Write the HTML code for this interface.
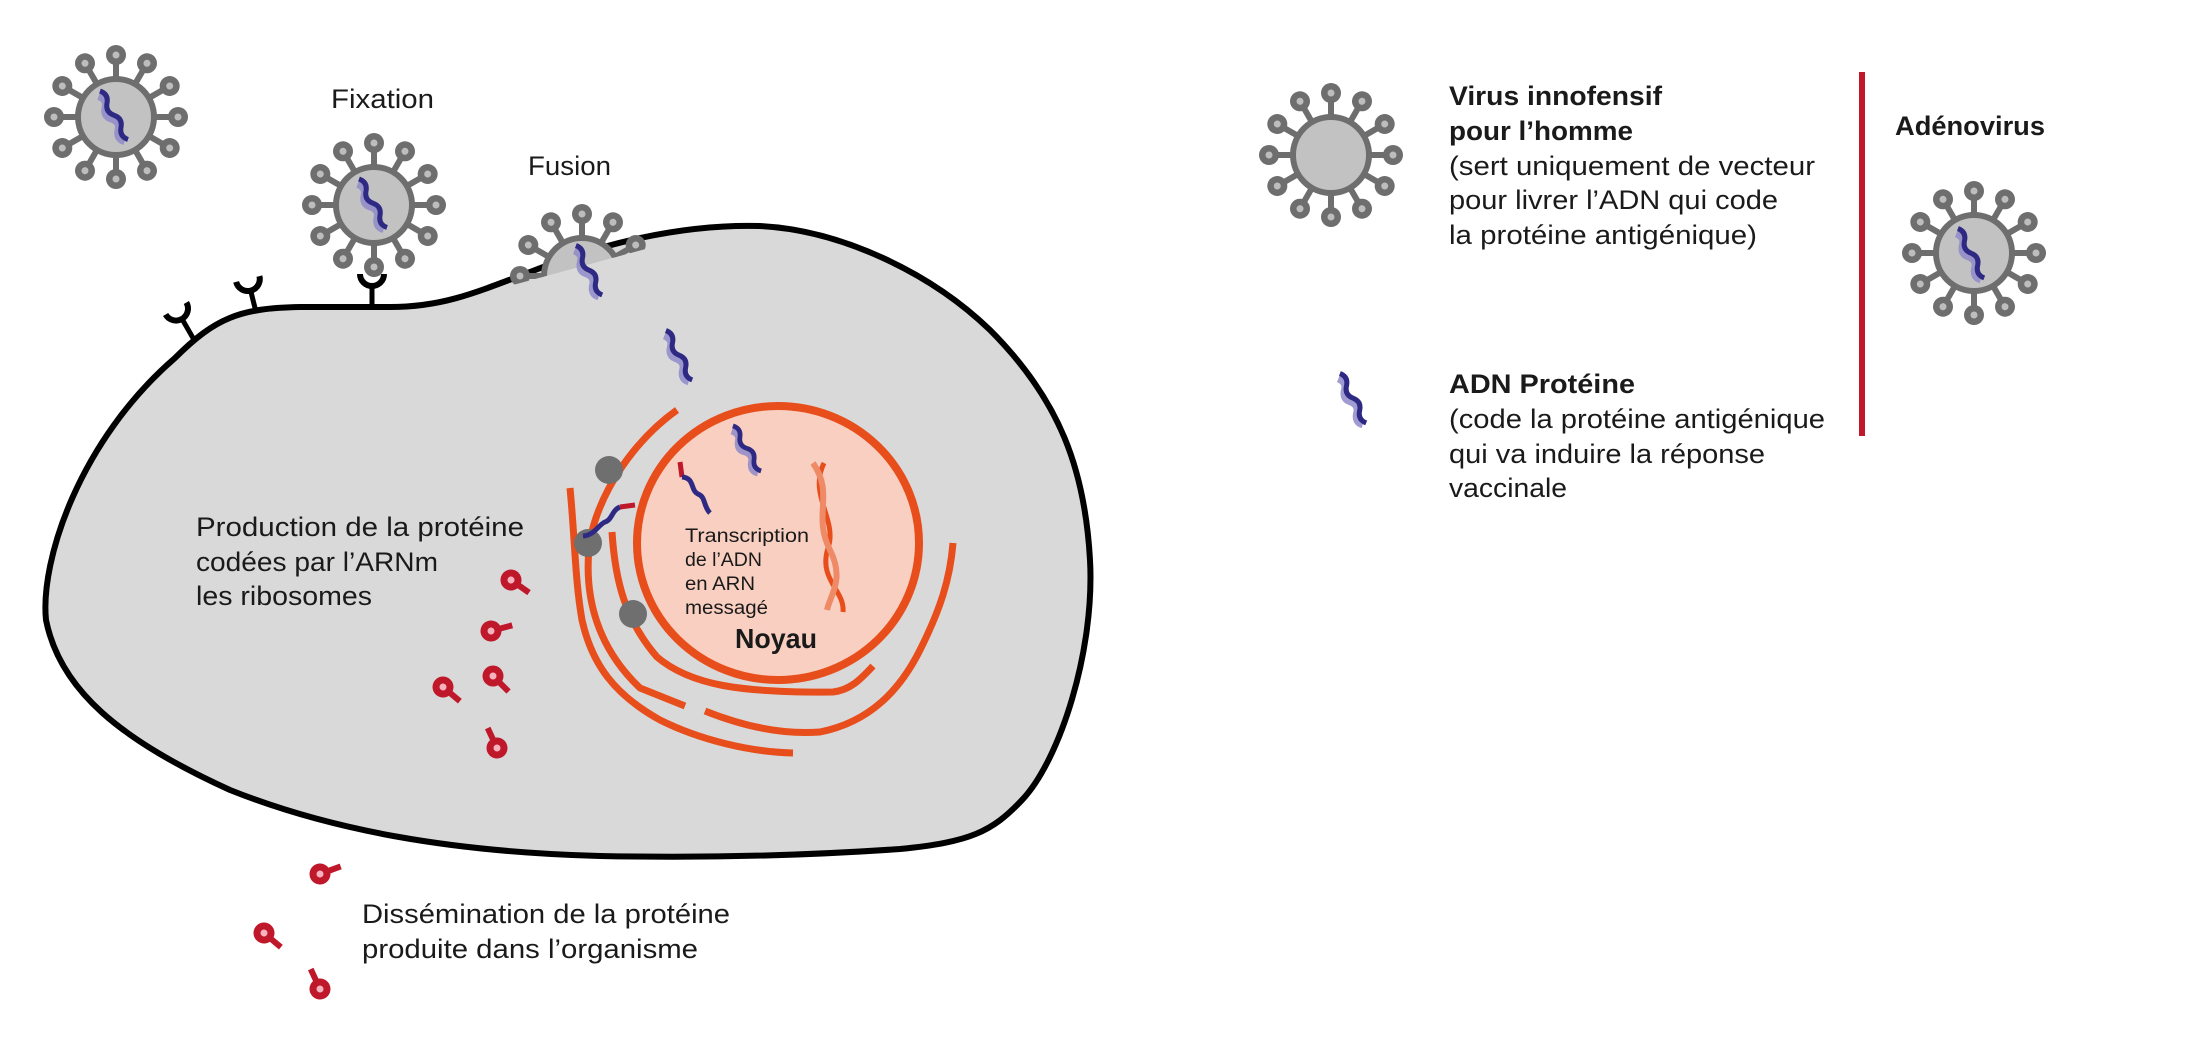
<!DOCTYPE html>
<html><head><meta charset="utf-8"><style>
html,body{margin:0;padding:0;background:#fff;}
svg{display:block;}
text{font-family:"Liberation Sans",sans-serif;fill:#1a1a1a;}
</style></head><body>
<svg width="2200" height="1044" viewBox="0 0 2200 1044" xmlns="http://www.w3.org/2000/svg">
<defs>
  <g id="spike">
    <line x1="0" y1="-38" x2="0" y2="-55" stroke="#6e6e6e" stroke-width="6"/>
    <circle cx="0" cy="-62" r="10" fill="#6e6e6e"/>
    <circle cx="0" cy="-62" r="3.5" fill="#bdbdbd"/>
  </g>
  <g id="virus">
    <use href="#spike" transform="rotate(0)"/><use href="#spike" transform="rotate(30)"/>
    <use href="#spike" transform="rotate(60)"/><use href="#spike" transform="rotate(90)"/>
    <use href="#spike" transform="rotate(120)"/><use href="#spike" transform="rotate(150)"/>
    <use href="#spike" transform="rotate(180)"/><use href="#spike" transform="rotate(210)"/>
    <use href="#spike" transform="rotate(240)"/><use href="#spike" transform="rotate(270)"/>
    <use href="#spike" transform="rotate(300)"/><use href="#spike" transform="rotate(330)"/>
    <circle cx="0" cy="0" r="38" fill="#c2c2c2" stroke="#6e6e6e" stroke-width="6"/>
  </g>
  <g id="dna">
    <path d="M-4,-26 q6,7 0,13 q-6,7 0,13 q6,7 0,13 q-6,7 0,13" fill="none" stroke="#8f89c9" stroke-width="7" opacity="0.85"/>
    <path d="M0,-30 q6,7 0,14 q-6,7 0,14 q6,7 0,14 q-6,7 0,14" fill="none" stroke="#2e2a84" stroke-width="5"/>
  </g>
  <g id="prot">
    <line x1="0" y1="0" x2="22" y2="0" stroke="#c0182b" stroke-width="6"/>
    <circle cx="0" cy="0" r="10.5" fill="#c0182b"/>
    <circle cx="0" cy="0" r="3.5" fill="#f6b3bd"/>
  </g>
  <g id="rec">
    <line x1="0" y1="0" x2="0" y2="-20" stroke="#000" stroke-width="5"/>
    <path d="M-12,-34 A12,12 0 0 0 12,-34" fill="none" stroke="#000" stroke-width="6"/>
  </g>
  <clipPath id="abv"><polygon points="470,0 730,0 730,226 480,294"/></clipPath>
</defs>

<use href="#virus" transform="translate(116,117)"/>
<use href="#dna" transform="translate(115,117) rotate(-30)"/>
<use href="#virus" transform="translate(374,205)"/>
<use href="#dna" transform="translate(374,205) rotate(-30)"/>

<use href="#rec" transform="translate(193,338) rotate(-30)"/>
<use href="#rec" transform="translate(256,312) rotate(-14)"/>
<use href="#rec" transform="translate(372,308)"/>

<path d="M175,358 C215,318 240,308 300,307 L390,307 C440,307 470,295 530,272 C600,244 680,224 760,226 C840,230 930,272 990,330 C1060,400 1085,470 1090,560 C1095,650 1060,760 1022,800 C992,832 970,842 900,849 C800,856 700,858 600,856 C450,852 330,830 230,790 C120,740 60,690 46,620 C40,560 80,440 175,358 Z" fill="#d9d9d9" stroke="#000" stroke-width="6"/>

<g clip-path="url(#abv)"><use href="#virus" transform="translate(582,276)"/></g>
<use href="#dna" transform="translate(590,272) rotate(-28)"/>
<use href="#dna" transform="translate(680,357) rotate(-28)"/>

<g fill="none" stroke="#e84e1b" stroke-width="7">
  <path d="M677,410 C635,440 600,490 590,540 C582,600 600,650 640,688 L685,706"/>
  <path d="M570,488 C575,540 575,580 582,620 C592,665 615,695 660,720 C700,740 750,752 793,753"/>
  <path d="M612,532 C615,580 625,620 657,657 C690,685 740,693 833,692 C850,690 860,680 873,666"/>
  <path d="M705,711 C740,725 780,735 820,732 C870,722 900,690 920,650 C940,610 950,580 953,543"/>
</g>

<ellipse cx="778" cy="543" rx="141" ry="137" fill="#f8cfc0" stroke="#e84e1b" stroke-width="8"/>

<circle cx="609" cy="470" r="14" fill="#6f6f6f"/>
<circle cx="588" cy="543" r="14" fill="#6f6f6f"/>
<circle cx="633" cy="614" r="14" fill="#6f6f6f"/>

<path d="M583,536 C595,535 598,525 605,522 C612,520 612,510 620,507" fill="none" stroke="#2e2a84" stroke-width="5"/>
<path d="M620,507 L635,505" fill="none" stroke="#c0182b" stroke-width="5"/>

<path d="M680,462 L682,477" stroke="#c0182b" stroke-width="5" fill="none"/>
<path d="M682,477 C695,478 690,490 698,494 C706,497 703,506 710,513" stroke="#2e2a84" stroke-width="5" fill="none"/>
<use href="#dna" transform="translate(748,450) rotate(-32) scale(0.95)"/>
<path d="M824,463 C808,495 838,520 828,548 C818,580 845,590 843,612" stroke="#e84e1b" stroke-width="5" fill="none"/>
<path d="M813,463 C835,495 812,515 830,550 C845,580 830,595 827,610" stroke="#ee8a66" stroke-width="6" fill="none"/>

<g lengthAdjust="spacingAndGlyphs">
<text x="685" y="542" font-size="19" textLength="124" lengthAdjust="spacingAndGlyphs">Transcription</text>
<text x="685" y="566" font-size="19" textLength="77" lengthAdjust="spacingAndGlyphs">de l’ADN</text>
<text x="685" y="590" font-size="19" textLength="70" lengthAdjust="spacingAndGlyphs">en ARN</text>
<text x="685" y="614" font-size="19" textLength="83" lengthAdjust="spacingAndGlyphs">messagé</text>
<text x="735" y="648" font-size="28" font-weight="bold" textLength="82" lengthAdjust="spacingAndGlyphs">Noyau</text>

<text x="331" y="108" font-size="27" textLength="103" lengthAdjust="spacingAndGlyphs">Fixation</text>
<text x="528" y="175" font-size="27" textLength="83" lengthAdjust="spacingAndGlyphs">Fusion</text>
<text x="196" y="536" font-size="27" textLength="328" lengthAdjust="spacingAndGlyphs">Production de la protéine</text>
<text x="196" y="571" font-size="27" textLength="242" lengthAdjust="spacingAndGlyphs">codées par l’ARNm</text>
<text x="196" y="605" font-size="27" textLength="176" lengthAdjust="spacingAndGlyphs">les ribosomes</text>
<text x="362" y="923" font-size="27" textLength="368" lengthAdjust="spacingAndGlyphs">Dissémination de la protéine</text>
<text x="362" y="958" font-size="27" textLength="336" lengthAdjust="spacingAndGlyphs">produite dans l’organisme</text>

<text x="1449" y="105" font-size="27" font-weight="bold" textLength="213" lengthAdjust="spacingAndGlyphs">Virus innofensif</text>
<text x="1449" y="140" font-size="27" font-weight="bold" textLength="184" lengthAdjust="spacingAndGlyphs">pour l’homme</text>
<text x="1449" y="175" font-size="27" textLength="366" lengthAdjust="spacingAndGlyphs">(sert uniquement de vecteur</text>
<text x="1449" y="209" font-size="27" textLength="329" lengthAdjust="spacingAndGlyphs">pour livrer l’ADN qui code</text>
<text x="1449" y="244" font-size="27" textLength="308" lengthAdjust="spacingAndGlyphs">la protéine antigénique)</text>
<text x="1449" y="393" font-size="27" font-weight="bold" textLength="186" lengthAdjust="spacingAndGlyphs">ADN Protéine</text>
<text x="1449" y="428" font-size="27" textLength="376" lengthAdjust="spacingAndGlyphs">(code la protéine antigénique</text>
<text x="1449" y="463" font-size="27" textLength="316" lengthAdjust="spacingAndGlyphs">qui va induire la réponse</text>
<text x="1449" y="497" font-size="27" textLength="118" lengthAdjust="spacingAndGlyphs">vaccinale</text>
<text x="1895" y="135" font-size="27" font-weight="bold" textLength="150" lengthAdjust="spacingAndGlyphs">Adénovirus</text>
</g>

<use href="#prot" transform="translate(511,580) rotate(35)"/>
<use href="#prot" transform="translate(491,631) rotate(-15)"/>
<use href="#prot" transform="translate(493,676) rotate(45)"/>
<use href="#prot" transform="translate(443,687) rotate(40)"/>
<use href="#prot" transform="translate(497,748) rotate(-115)"/>
<use href="#prot" transform="translate(320,874) rotate(-20)"/>
<use href="#prot" transform="translate(264,933) rotate(40)"/>
<use href="#prot" transform="translate(320,989) rotate(-115)"/>

<use href="#virus" transform="translate(1331,155)"/>
<use href="#dna" transform="translate(1354,400) rotate(-28)"/>
<rect x="1859" y="72" width="6" height="364" fill="#c0182b"/>
<use href="#virus" transform="translate(1974,253)"/>
<use href="#dna" transform="translate(1972,255) rotate(-28)"/>
</svg>
</body></html>
